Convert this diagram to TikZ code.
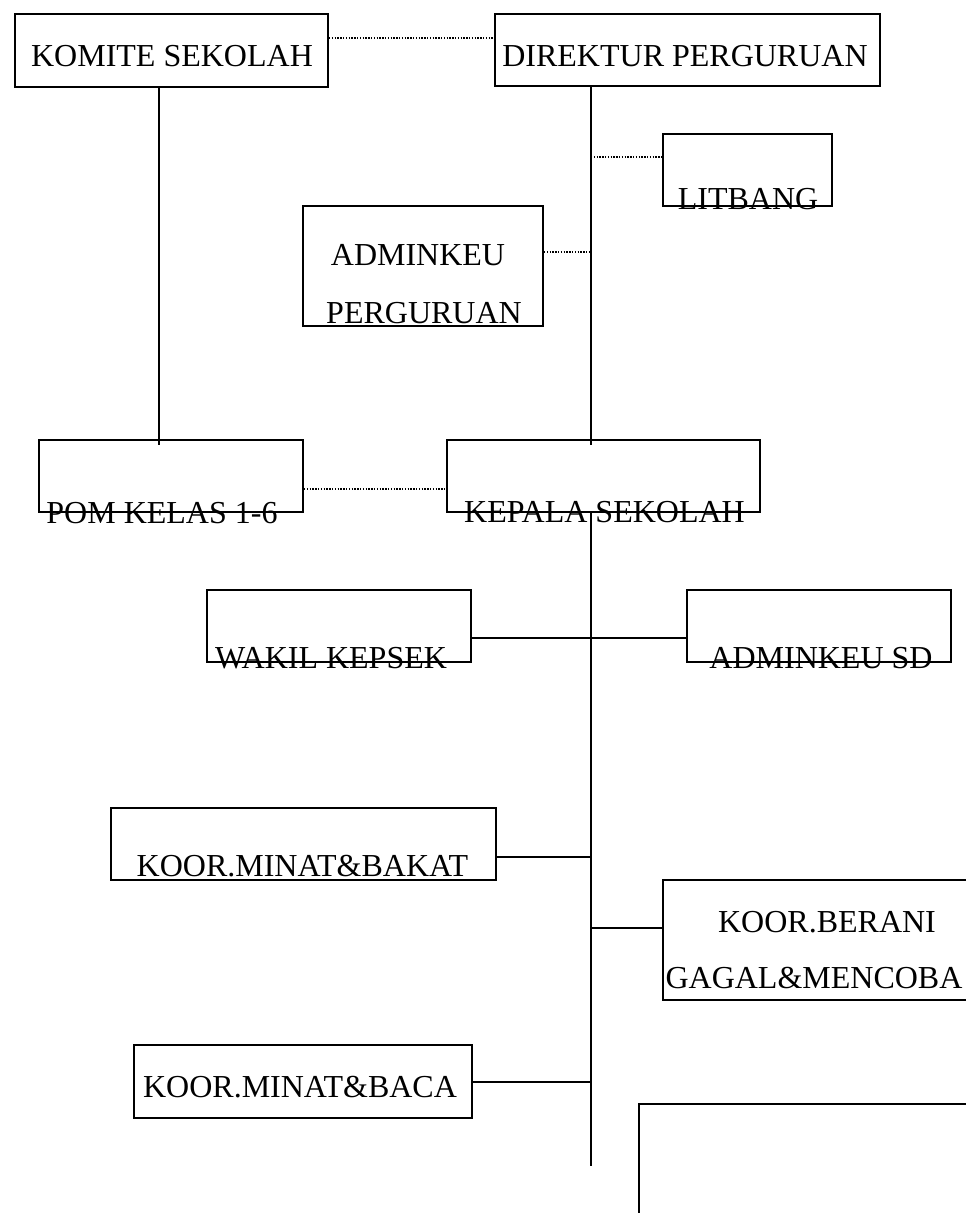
\documentclass[tikz,border=0pt]{standalone}
\usepackage{fontspec}
\setmainfont{Liberation Serif}
\usetikzlibrary{positioning,calc}

\begin{document}
\begin{tikzpicture}[x=0.5pt, y=-0.5pt,
    unit/.style={rectangle, draw=black, line width=1pt, inner sep=0pt, anchor=north west},
    lbl/.style={font=\fontsize{16}{19}\selectfont, inner sep=0pt, anchor=base},
    link/.style={line width=1pt},
    dotlink/.style={line width=0.8pt, dash pattern=on 0.7pt off 0.7pt}
]
    \path[fill=white,use as bounding box] (0,0) rectangle (965,1213);
    % boxes
    \node[unit, minimum width=156.5pt, minimum height=36.5pt] (komite) at (14,13) {};
    \node[unit, minimum width=192.5pt, minimum height=36pt] (direktur) at (494,13) {};
    \node[unit, minimum width=84.5pt, minimum height=36pt] (litbang) at (662,133) {};
    \node[unit, minimum width=120pt, minimum height=60pt] (adminp) at (302,205) {};
    \node[unit, minimum width=132pt, minimum height=36pt] (pom) at (38,439) {};
    \node[unit, minimum width=156.5pt, minimum height=36pt] (kepala) at (446,439) {};
    \node[unit, minimum width=132pt, minimum height=36pt] (wakil) at (206,589) {};
    \node[unit, minimum width=132pt, minimum height=36pt] (adminsd) at (686,589) {};
    \node[unit, minimum width=192.5pt, minimum height=36pt] (bakat) at (110,807) {};
    \node[unit, minimum width=200pt, minimum height=60pt] (berani) at (662,879) {};
    \node[unit, minimum width=169pt, minimum height=36.5pt] (baca) at (133,1044) {};
    \node[unit, minimum width=200pt, minimum height=100pt] (kosong) at (638,1103) {};
    % texts
    \node[lbl] (tkomite) at (172,67) {KOMITE SEKOLAH};
    \node[lbl] (tdirektur) at (685,67) {DIREKTUR PERGURUAN};
    \node[lbl] (tlitbang) at (748,210) {LITBANG};
    \node[lbl] (tadminp1) at (418,266) {ADMINKEU};
    \node[lbl] (tadminp2) at (424,324) {PERGURUAN};
    \node[lbl] (tpom) at (162,523) {POM KELAS 1-6};
    \node[lbl] (tkepala) at (604.5,522) {KEPALA SEKOLAH};
    \node[lbl] (twakil) at (331,668) {WAKIL KEPSEK};
    \node[lbl] (tadminsd) at (821,668) {ADMINKEU SD};
    \node[lbl] (tbakat) at (302.5,876) {KOOR.MINAT\&BAKAT};
    \node[lbl] (tberani1) at (827,932) {KOOR.BERANI};
    \node[lbl] (tberani2) at (814,988) {GAGAL\&MENCOBA};
    \node[lbl] (tbaca) at (300,1097) {KOOR.MINAT\&BACA};
    % trunk lines
    \coordinate (kline) at (159,0);
    \coordinate (trunk) at (591,1166);
    \coordinate (jlit) at (591,157);
    \coordinate (jadm) at (591,252);
    \draw[dotlink] ([yshift=6.25pt]komite.east) -- ([yshift=6.25pt]komite.east -| direktur.west);
    \draw[link] (komite.south -| kline) -- ([yshift=-3pt]pom.north -| kline);
    \draw[link] (direktur.south -| trunk) -- ([yshift=-3pt]kepala.north -| trunk);
    \draw[dotlink] (jlit) -- (jlit -| litbang.west);
    \draw[dotlink] (jadm -| adminp.east) -- (jadm);
    \draw[dotlink] ([yshift=-6.5pt]pom.east) -- ([yshift=-6.5pt]pom.east -| kepala.west);
    \draw[link] (kepala.south -| trunk) -- (trunk);
    \draw[link] ([yshift=-6pt]wakil.east) -- ([yshift=-6pt]wakil.east -| adminsd.west);
    \draw[link] ([yshift=-6.25pt]bakat.east) -- ([yshift=-6.25pt]bakat.east -| trunk);
    \draw[link] ([yshift=6pt]berani.west -| trunk) -- ([yshift=6pt]berani.west);
    \draw[link] (baca.east) -- (baca.east -| trunk);
\end{tikzpicture}
\end{document}
